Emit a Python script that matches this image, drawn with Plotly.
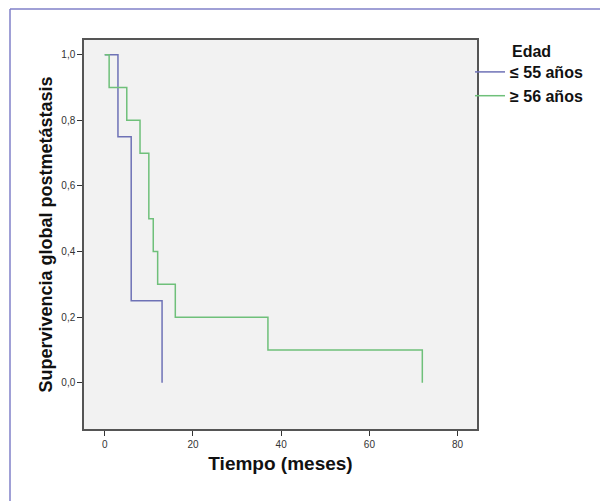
import plotly.graph_objects as go

# Kaplan-Meier data (months, survival)
tiempo_le55 = [0, 3, 6, 13]
superv_le55 = [1.0, 0.75, 0.25, 0.0]
tiempo_ge56 = [0, 1, 5, 8, 10, 11, 12, 16, 37, 72]
superv_ge56 = [1.0, 0.9, 0.8, 0.7, 0.5, 0.4, 0.3, 0.2, 0.1, 0.0]

series_names = ["≤ 55 años", "≥ 56 años"]
y_ticks = [0.0, 0.2, 0.4, 0.6, 0.8, 1.0]
y_ticktext = ["0,0", "0,2", "0,4", "0,6", "0,8", "1,0"]
x_ticks = [0, 20, 40, 60, 80]

fig = go.Figure()
fig.add_trace(go.Scatter(x=tiempo_le55, y=superv_le55, mode="lines", line_shape="hv",
                         name=series_names[0], line=dict(color="#6e72b6", width=1.5)))
fig.add_trace(go.Scatter(x=tiempo_ge56, y=superv_ge56, mode="lines", line_shape="hv",
                         name=series_names[1], line=dict(color="#6fc07a", width=1.5)))

L, R, T, B = 84, 477, 40, 429
W, H = 600, 501
pw, ph = R - L, B - T

fig.update_layout(
    width=W, height=H,
    margin=dict(l=L, r=W - R, t=T, b=H - B),
    paper_bgcolor="white",
    plot_bgcolor="#f2f2f2",
    font=dict(family="Liberation Sans, Arial, sans-serif", color="#111"),
    showlegend=True,
    legend=dict(x=(470 - L) / pw, y=(429 - 55) / ph, xanchor="left", yanchor="top",
                bgcolor="rgba(0,0,0,0)", font=dict(size=16, weight="bold", color="#111"),
                tracegroupgap=0, itemwidth=30),
    xaxis=dict(range=[-4.7, 84.4], tickvals=x_ticks, ticks="outside", ticklen=5,
               tickcolor="#333", showgrid=False, zeroline=False,
               showline=True, linecolor="#555", linewidth=1.5, mirror=True,
               tickfont=dict(size=10, color="#333"),
               title=dict(text="<b>Tiempo (meses)</b>", font=dict(size=19, color="#111"), standoff=8)),
    yaxis=dict(range=[-0.141, 1.045], tickvals=y_ticks, ticktext=y_ticktext,
               ticks="outside", ticklen=5, tickcolor="#333", showgrid=False, zeroline=False,
               showline=True, linecolor="#555", linewidth=1.5, mirror=True,
               tickfont=dict(size=10, color="#333"),
               title=dict(text="<b>Supervivencia global postmetástasis</b>", font=dict(size=18, color="#111"), standoff=4)),
    annotations=[dict(text="<b>Edad</b>", xref="paper", yref="paper",
                      x=(510 - L) / pw, y=(429 - 52) / ph, xanchor="left", yanchor="middle",
                      showarrow=False, font=dict(size=16, color="#111"))],
    shapes=[
        dict(type="line", xref="paper", yref="paper", x0=(10 - L) / pw, x1=(10 - L) / pw,
             y0=-0.3, y1=(B - 9) / ph, line=dict(color="#8080c8", width=1.5)),
        dict(type="line", xref="paper", yref="paper", x0=(10 - L) / pw, x1=1.4,
             y0=(B - 9) / ph, y1=(B - 9) / ph, line=dict(color="#8080c8", width=1.5)),
    ],
)

fig.write_html("out.html", config={"displayModeBar": False},
               post_script="document.body.style.margin='0';")
